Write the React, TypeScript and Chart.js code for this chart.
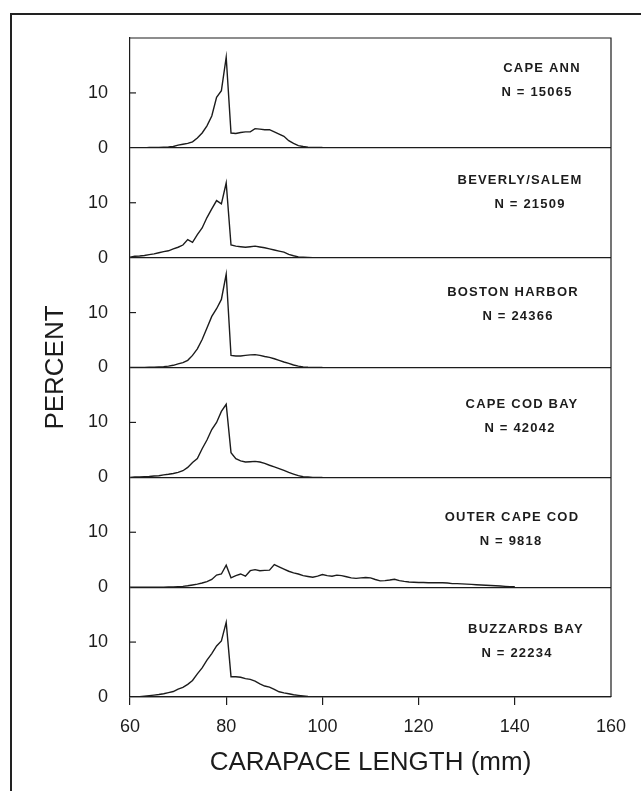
import { useEffect, useRef } from 'react';
import { Chart, registerables } from 'chart.js';

Chart.register(...registerables);

// Carapace length bins (mm)
const lengthsMm = [
  60, 61, 62, 63, 64, 65, 66, 67, 68, 69,
  70, 71, 72, 73, 74, 75, 76, 77, 78, 79,
  80, 81, 82, 83, 84, 85, 86, 87, 88, 89,
  90, 91, 92, 93, 94, 95, 96, 97, 98, 99,
  100, 101, 102, 103, 104, 105, 106, 107, 108, 109,
  110, 111, 112, 113, 114, 115, 116, 117, 118, 119,
  120, 121, 122, 123, 124, 125, 126, 127, 128, 129,
  130, 131, 132, 133, 134, 135, 136, 137, 138, 139, 140,
];

// Percent frequency per region (starting at 60 mm)
const capeAnn = [
  0, 0, 0, 0, 0.05, 0.05, 0.05, 0.1, 0.15, 0.25,
  0.5, 0.65, 0.8, 1.1, 1.8, 2.7, 4.0, 5.8, 9.2, 10.4,
  16.5, 2.7, 2.6, 2.8, 2.9, 2.9, 3.5, 3.4, 3.3, 3.3,
  2.9, 2.5, 2.1, 1.3, 0.8, 0.4, 0.25, 0.12, 0.05, 0.05, 0.05,
];
const beverlySalem = [
  0.1, 0.25, 0.3, 0.4, 0.55, 0.7, 0.9, 1.1, 1.25, 1.6,
  1.9, 2.3, 3.3, 2.8, 4.2, 5.4, 7.3, 8.9, 10.4, 9.8,
  13.6, 2.3, 2.1, 2.0, 1.9, 2.0, 2.1, 1.95, 1.8, 1.6,
  1.4, 1.2, 1.0, 0.6, 0.35, 0.15, 0.1, 0.05, 0, 0, 0,
];
const bostonHarbor = [
  0, 0, 0, 0, 0.05, 0.05, 0.1, 0.15, 0.25, 0.4,
  0.65, 0.9, 1.3, 2.2, 3.4, 5.1, 7.2, 9.3, 10.7, 12.4,
  17.0, 2.2, 2.1, 2.1, 2.2, 2.3, 2.35, 2.2, 2.0, 1.85,
  1.6, 1.3, 1.0, 0.75, 0.45, 0.25, 0.12, 0.05, 0, 0, 0,
];
const capeCodBay = [
  0, 0.05, 0.05, 0.1, 0.15, 0.25, 0.3, 0.45, 0.55, 0.7,
  0.9, 1.2, 1.8, 2.7, 3.4, 5.2, 6.8, 8.7, 10.0, 12.0,
  13.3, 4.5, 3.4, 3.0, 2.8, 2.85, 2.9, 2.8, 2.55, 2.2,
  1.9, 1.6, 1.25, 0.9, 0.6, 0.3, 0.1, 0.05, 0, 0, 0,
];
const outerCapeCod = [
  0, 0, 0, 0, 0, 0, 0, 0, 0.05, 0.05,
  0.1, 0.15, 0.25, 0.4, 0.55, 0.75, 1.0, 1.4, 2.2, 2.4,
  4.0, 1.7, 2.1, 2.4, 2.0, 3.0, 3.2, 3.0, 3.05, 3.1,
  4.1, 3.7, 3.3, 2.9, 2.6, 2.4, 2.1, 1.95, 1.8, 2.0,
  2.3, 2.1, 2.0, 2.2, 2.1, 1.9, 1.7, 1.6, 1.7, 1.75,
  1.7, 1.4, 1.15, 1.2, 1.3, 1.45, 1.2, 1.05, 0.95, 0.9,
  0.85, 0.85, 0.8, 0.8, 0.8, 0.8, 0.75, 0.65, 0.65, 0.6,
  0.55, 0.5, 0.45, 0.4, 0.35, 0.3, 0.25, 0.2, 0.15, 0.1, 0.1,
];
const buzzardsBay = [
  0, 0.05, 0.05, 0.15, 0.25, 0.35, 0.45, 0.6, 0.8, 1.0,
  1.45, 1.75, 2.3, 3.0, 4.2, 5.3, 6.7, 7.9, 9.3, 10.2,
  13.6, 3.7, 3.7, 3.6, 3.35, 3.2, 2.9, 2.4, 2.0, 1.8,
  1.4, 0.95, 0.75, 0.6, 0.4, 0.3, 0.2, 0.1, 0.05, 0, 0,
];

const regionNames = [
  'CAPE ANN',
  'BEVERLY/SALEM',
  'BOSTON HARBOR',
  'CAPE COD BAY',
  'OUTER CAPE COD',
  'BUZZARDS BAY',
];
const sampleSizes = [15065, 21509, 24366, 42042, 9818, 22234];

const xTickValues = [60, 80, 100, 120, 140, 160];
const yTickValues = [0, 10];

const xTitle = 'CARAPACE LENGTH (mm)';
const yTitle = 'PERCENT';

// layout of panel annotations (pixels)
const nameFromRight = [69, 91, 98, 89, 99, 85];
const countFromRight = [74, 81, 93, 91, 100, 94];
const nameFromTop = [30, 33, 35, 37, 40, 42];

const INK = '#1c1c1c';
const FONT = '"Liberation Sans", Arial, Helvetica, sans-serif';

const series = [capeAnn, beverlySalem, bostonHarbor, capeCodBay, outerCapeCod, buzzardsBay];
const panelIds = series.map((_, i) => `y${i}`);

const annotationPlugin = {
  id: 'panelAnnotations',
  afterDraw(chart: any) {
    const { ctx, chartArea: a } = chart;
    ctx.save();
    ctx.strokeStyle = INK;
    ctx.lineWidth = 1.2;
    ctx.beginPath();
    ctx.moveTo(a.left, a.top);
    ctx.lineTo(a.right, a.top);
    ctx.lineTo(a.right, a.bottom);
    ctx.stroke();

    panelIds.forEach((id, i) => {
      const s = chart.scales[id];
      const y10 = s.getPixelForValue(yTickValues[1]);
      ctx.beginPath();
      ctx.moveTo(a.left, y10);
      ctx.lineTo(a.left + 6, y10);
      ctx.stroke();

      ctx.fillStyle = INK;
      ctx.font = `bold 13px ${FONT}`;
      (ctx as any).letterSpacing = '1.2px';
      ctx.textAlign = 'center';
      ctx.textBaseline = 'middle';
      ctx.fillText(regionNames[i], a.right - nameFromRight[i], s.top + nameFromTop[i]);
      ctx.fillText(`N = ${sampleSizes[i]}`, a.right - countFromRight[i], s.top + nameFromTop[i] + 24);
    });

    (ctx as any).letterSpacing = '0px';
    ctx.translate(a.left - 74, (a.top + a.bottom) / 2);
    ctx.rotate(-Math.PI / 2);
    ctx.font = `26px ${FONT}`;
    ctx.textAlign = 'center';
    ctx.textBaseline = 'middle';
    ctx.fillStyle = INK;
    ctx.fillText(yTitle, 0, 0);
    ctx.restore();
  },
};

function buildScales() {
  const scales: any = {
    x: {
      type: 'linear',
      position: 'bottom',
      min: 60,
      max: 160,
      afterBuildTicks: (s: any) => {
        s.ticks = xTickValues.map((v) => ({ value: v }));
      },
      afterFit: (s: any) => {
        s.height = 94;
      },
      ticks: {
        padding: 11,
        maxRotation: 0,
        autoSkip: false,
        color: INK,
        font: { family: FONT, size: 18 },
      },
      grid: {
        drawOnChartArea: false,
        drawTicks: true,
        tickLength: 8,
        lineWidth: 1.2,
        color: (c: any) => (c.tick && c.tick.value === 160 ? 'rgba(0,0,0,0)' : INK),
      },
      border: { display: true, color: INK, width: 1.2 },
      title: {
        display: true,
        text: xTitle,
        color: INK,
        font: { family: FONT, size: 26 },
        padding: { top: 0, bottom: 13 },
      },
    },
  };
  // define bottom panel first so the top panel is stacked on top
  for (let i = series.length - 1; i >= 0; i--) {
    scales[panelIds[i]] = {
      type: 'linear',
      position: 'left',
      stack: 'panels',
      stackWeight: 1,
      min: 0,
      max: 20,
      afterBuildTicks: (s: any) => {
        s.ticks = yTickValues.map((v) => ({ value: v }));
      },
      afterFit: (s: any) => {
        s.width = 60;
      },
      ticks: {
        padding: 22,
        color: INK,
        font: { family: FONT, size: 18 },
      },
      grid: {
        drawTicks: false,
        drawOnChartArea: true,
        lineWidth: 1.2,
        color: (c: any) => (c.tick && c.tick.value === 0 ? INK : 'rgba(0,0,0,0)'),
      },
      border: { display: true, color: INK, width: 1.2 },
    };
  }
  return scales;
}

export default function App() {
  const ref = useRef<HTMLCanvasElement>(null);

  useEffect(() => {
    if (!ref.current) return;
    const chart = new Chart(ref.current, {
      type: 'line',
      data: {
        datasets: series.map((vals, i) => ({
          label: regionNames[i],
          data: vals.map((v, k) => ({ x: lengthsMm[k], y: v })),
          xAxisID: 'x',
          yAxisID: panelIds[i],
          borderColor: INK,
          borderWidth: 1.4,
          pointRadius: 0,
          tension: 0,
          fill: false,
        })),
      },
      options: {
        responsive: false,
        animation: false,
        layout: { padding: { left: 70, right: 30, top: 38, bottom: 0 } },
        plugins: {
          legend: { display: false },
          tooltip: { enabled: false },
        },
        scales: buildScales(),
      },
      plugins: [annotationPlugin],
    } as any);
    return () => chart.destroy();
  }, []);

  return (
    <div
      style={{
        position: 'absolute',
        left: 0,
        top: 0,
        width: 641,
        height: 791,
        background: '#fff',
        overflow: 'hidden',
      }}
    >
      <div
        style={{
          position: 'absolute',
          left: 10,
          top: 13,
          width: 640,
          height: 800,
          borderLeft: '2px solid #222',
          borderTop: '2px solid #222',
        }}
      />
      <canvas
        ref={ref}
        width={641}
        height={791}
        style={{ position: 'absolute', left: 0, top: 0, width: 641, height: 791 }}
      />
    </div>
  );
}
